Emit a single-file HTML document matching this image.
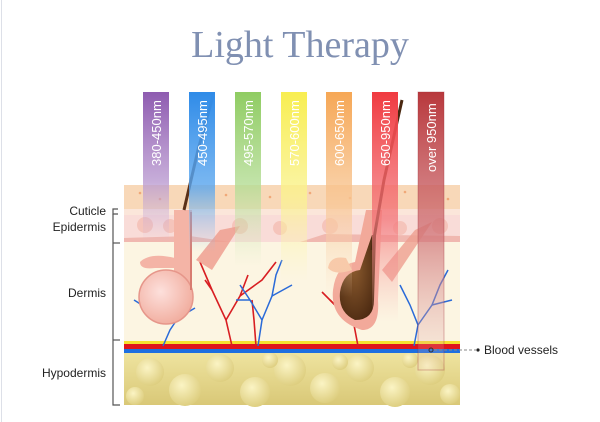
<!DOCTYPE html>
<html><head><meta charset="utf-8"><style>
html,body{margin:0;padding:0;background:#fff;}
svg{display:block;}
</style></head><body>
<svg width="600" height="422" viewBox="0 0 600 422" xmlns="http://www.w3.org/2000/svg">
<defs>
<linearGradient id="fat" x1="0" y1="0" x2="0" y2="1"><stop offset="0" stop-color="#efe4a0"/><stop offset="1" stop-color="#d9c877"/></linearGradient>
<radialGradient id="ball" cx="0.4" cy="0.35" r="0.7"><stop offset="0" stop-color="#fbf4c4"/><stop offset="1" stop-color="#dccc7c"/></radialGradient>
<radialGradient id="bulb" cx="0.4" cy="0.4" r="0.7"><stop offset="0" stop-color="#fde0dc"/><stop offset="1" stop-color="#f0a898"/></radialGradient>
<radialGradient id="brown" cx="0.4" cy="0.4" r="0.7"><stop offset="0" stop-color="#8a5a2e"/><stop offset="1" stop-color="#4a2810"/></radialGradient>
<linearGradient id="g1" x1="0" y1="0" x2="0" y2="1"><stop offset="0" stop-color="#8e5bb0"/><stop offset="0.6" stop-color="#b999d0" stop-opacity="0.8"/><stop offset="1" stop-color="#c9b0dc" stop-opacity="0"/></linearGradient>
<linearGradient id="g2" x1="0" y1="0" x2="0" y2="1"><stop offset="0" stop-color="#2f8be8"/><stop offset="0.6" stop-color="#5aa6ee" stop-opacity="0.8"/><stop offset="1" stop-color="#8fc2f2" stop-opacity="0"/></linearGradient>
<linearGradient id="g3" x1="0" y1="0" x2="0" y2="1"><stop offset="0" stop-color="#8fcc62"/><stop offset="0.55" stop-color="#b5dd96" stop-opacity="0.8"/><stop offset="1" stop-color="#d5ecc0" stop-opacity="0"/></linearGradient>
<linearGradient id="g4" x1="0" y1="0" x2="0" y2="1"><stop offset="0" stop-color="#f8ee50"/><stop offset="0.55" stop-color="#faf290" stop-opacity="0.8"/><stop offset="1" stop-color="#fbf6b8" stop-opacity="0"/></linearGradient>
<linearGradient id="g5" x1="0" y1="0" x2="0" y2="1"><stop offset="0" stop-color="#f6a755"/><stop offset="0.55" stop-color="#f8c694" stop-opacity="0.75"/><stop offset="1" stop-color="#f9dcc0" stop-opacity="0"/></linearGradient>
<linearGradient id="g6" x1="0" y1="0" x2="0" y2="1"><stop offset="0" stop-color="#f03a40"/><stop offset="0.55" stop-color="#f37478" stop-opacity="0.75"/><stop offset="1" stop-color="#f6b0b0" stop-opacity="0"/></linearGradient>
<linearGradient id="g7" x1="0" y1="0" x2="0" y2="1"><stop offset="0" stop-color="#b8383c"/><stop offset="0.5" stop-color="#cf7074" stop-opacity="0.75"/><stop offset="1" stop-color="#e2b0b0" stop-opacity="0.1"/></linearGradient>
</defs>
<line x1="1.5" y1="0" x2="1.5" y2="422" stroke="#dde0e8" stroke-width="1"/>
<text x="300" y="57" text-anchor="middle" font-family="Liberation Serif, serif" font-size="38" fill="#8090b2">Light Therapy</text>

<rect x="124" y="185" width="336" height="24" fill="#f8d8b8"/>
<rect x="124" y="209" width="336" height="6" fill="#fbe6da"/>
<rect x="124" y="215" width="336" height="27" fill="#f9dcd8"/>
<path d="M124 238 L190 236 L230 242 L300 242 L325 234 L460 236 L460 242 L124 242Z" fill="#f0b8b0"/>
<rect x="124" y="242" width="336" height="100" fill="#fcf5e2"/>
<g fill="#f5bfb4" opacity="0.8">
<circle cx="145" cy="225" r="8"/><circle cx="170" cy="226" r="7"/><circle cx="240" cy="226" r="8"/><circle cx="280" cy="228" r="7"/><circle cx="330" cy="226" r="8"/><circle cx="400" cy="228" r="7"/><circle cx="440" cy="226" r="8"/>
</g>
<g fill="#f0a878"><circle cx="140" cy="193" r="1.3"/><circle cx="160" cy="199" r="1.3"/><circle cx="226" cy="195" r="1.3"/><circle cx="270" cy="197" r="1.3"/><circle cx="310" cy="193" r="1.3"/><circle cx="350" cy="198" r="1.3"/><circle cx="405" cy="192" r="1.3"/><circle cx="448" cy="199" r="1.3"/></g>

<rect x="124" y="352" width="336" height="53" fill="url(#fat)"/>
<g fill="url(#ball)">
<circle cx="150" cy="372" r="14"/><circle cx="185" cy="390" r="16"/><circle cx="220" cy="368" r="14"/><circle cx="255" cy="392" r="15"/><circle cx="290" cy="370" r="16"/><circle cx="325" cy="388" r="15"/><circle cx="360" cy="368" r="14"/><circle cx="395" cy="392" r="15"/><circle cx="430" cy="370" r="15"/><circle cx="450" cy="394" r="10"/><circle cx="135" cy="396" r="9"/><circle cx="270" cy="360" r="8"/><circle cx="340" cy="362" r="8"/><circle cx="410" cy="360" r="8"/>
</g>

<rect x="124" y="341" width="336" height="3" fill="#f6e030"/>
<rect x="124" y="344" width="336" height="5" fill="#e0141c"/>
<rect x="124" y="349" width="336" height="4" fill="#1e6fe0"/>

<g fill="none" stroke="#d81e22" stroke-width="1.6">
<path d="M232 346 L226 320 L212 290 L200 262"/><path d="M226 320 L240 296 L248 275"/><path d="M212 290 L205 280"/><path d="M240 296 L262 280 L276 262"/>
<path d="M256 346 L254 320 L252 300"/>
<path d="M358 346 L354 325 L340 310 L322 292"/><path d="M340 310 L330 300"/>
</g>
<g fill="none" stroke="#2a6ad8" stroke-width="1.5">
<path d="M163 346 L170 330 L178 318 L190 300"/><path d="M178 318 L195 308"/><path d="M134 300 L150 310"/>
<path d="M258 346 L262 320 L250 300 L240 285"/><path d="M262 320 L272 296 L276 275 L282 260"/><path d="M272 296 L292 285"/><path d="M250 300 L236 300"/>
<path d="M414 346 L418 325 L410 305 L400 285"/><path d="M418 325 L432 305 L440 285 L448 270"/><path d="M432 305 L452 300"/>
</g>

<rect x="174" y="210" width="18" height="80" fill="#f4b4a6"/>
<path d="M175 258 Q150 252 140 262 Q140 270 155 268 L175 268Z" fill="#f4b4a6"/>
<circle cx="166" cy="297" r="27" fill="url(#bulb)" stroke="#e6968a" stroke-width="1.5"/>
<path d="M191 290 L191 212" stroke="#d87c70" stroke-width="2"/>
<path d="M184 210 L198 150 L213 96" stroke="#5a3018" stroke-width="3" fill="none"/>
<path d="M196 260 L220 230 L240 226 L212 270Z" fill="#ee9f90" opacity="0.85"/>

<path d="M362 330 Q330 320 333 290 Q336 265 355 262 L366 210 L382 210 L378 300 Q380 330 362 330Z" fill="#f2a99a"/>
<path d="M355 320 Q338 312 340 292 Q343 272 360 270 L372 235 L376 235 L374 300 Q374 320 355 320Z" fill="url(#brown)"/>
<path d="M346 258 Q330 255 328 268 Q335 276 352 270Z" fill="#f7c6a8"/>
<path d="M372 250 L384 180 L402 100" stroke="#4a2810" stroke-width="3" fill="none"/>
<path d="M382 270 L415 230 L432 222 L392 282Z" fill="#ee9f90" opacity="0.8"/>

<g>
<rect x="143" y="92" width="26" height="150" fill="url(#g1)"/>
<rect x="189" y="92" width="26" height="160" fill="url(#g2)"/>
<rect x="235" y="92" width="26" height="175" fill="url(#g3)"/>
<rect x="281" y="92" width="26" height="190" fill="url(#g4)"/>
<rect x="326" y="92" width="26" height="205" fill="url(#g5)"/>
<rect x="372" y="92" width="26" height="230" fill="url(#g6)"/>
<rect x="418" y="92" width="26" height="278" fill="url(#g7)"/>
<rect x="418" y="92" width="26" height="278" fill="none" stroke="#a03038" stroke-opacity="0.35"/>
</g>
<g font-family="Liberation Sans, sans-serif" font-size="13" fill="#fff">
<text transform="translate(161,166) rotate(-90)">380-450nm</text>
<text transform="translate(207,166) rotate(-90)">450-495nm</text>
<text transform="translate(253,166) rotate(-90)">495-570nm</text>
<text transform="translate(299,166) rotate(-90)">570-600nm</text>
<text transform="translate(344,166) rotate(-90)">600-650nm</text>
<text transform="translate(390,166) rotate(-90)">650-950nm</text>
<text transform="translate(436,172) rotate(-90)">over  950nm</text>
</g>

<g stroke="#555" stroke-width="1.2" fill="none">
<path d="M118 209 L113 209 L113 214 L118 214"/>
<path d="M113 214 L113 405 L120 405"/>
<path d="M113 243 L120 243"/><path d="M113 340 L120 340"/>
</g>
<g font-family="Liberation Sans, sans-serif" font-size="12" fill="#222" text-anchor="end">
<text x="106" y="215">Cuticle</text>
<text x="106" y="231">Epidermis</text>
<text x="106" y="297">Dermis</text>
<text x="106" y="377">Hypodermis</text>
</g>
<circle cx="431" cy="350" r="2" fill="none" stroke="#333"/>
<line x1="434" y1="350" x2="476" y2="350" stroke="#888" stroke-dasharray="3,2"/>
<circle cx="478" cy="350" r="1.6" fill="#222"/>
<text x="484" y="354" font-family="Liberation Sans, sans-serif" font-size="12" fill="#222">Blood vessels</text>
</svg>
</body></html>
